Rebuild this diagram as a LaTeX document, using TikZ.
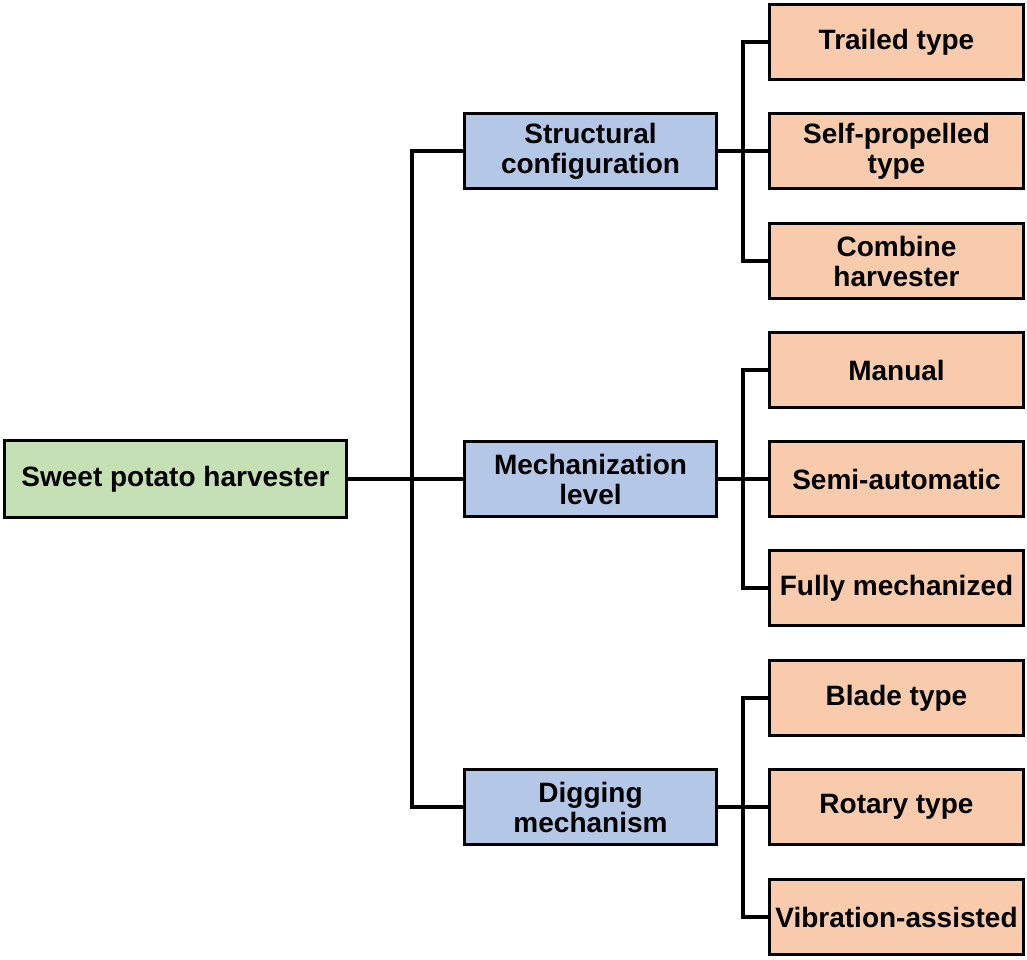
\documentclass[tikz,border=0pt]{standalone}
\usepackage{fontspec}
\setmainfont{Liberation Sans}
\usepackage{tikz}
\usepackage{xcolor}

\definecolor{rootgreen}{HTML}{C5E0B4}
\definecolor{midblue}{HTML}{B4C7E7}
\definecolor{leaforange}{HTML}{F8CBAD}

\begin{document}
\begin{tikzpicture}[x=1pt, y=-1pt,
        box/.style={draw=black, line width=3.3pt, align=center, inner sep=1pt,
            font=\fontsize{28}{30}\selectfont\bfseries},
        rootbox/.style={box, fill=rootgreen, minimum width=342pt, minimum height=77pt},
        midbox/.style={box, fill=midblue, minimum width=252pt, minimum height=75pt},
        leafbox/.style={box, fill=leaforange, minimum width=254pt, minimum height=75pt},
        link/.style={line width=3.6pt}]
        % Canvas
        \useasboundingbox (0,0) rectangle (1027,960);
        
        % Root (green)
        \node[rootbox] (root) at (175.5, 479) {Sweet potato harvester};
        
        % Categories (blue)
        \node[midbox] (struct) at (590.5, 151) {Structural\\configuration};
        \node[midbox] (mech) at (590.5, 479) {Mechanization\\level};
        \node[midbox] (dig) at (590.5, 807) {Digging\\mechanism};
        
        % Leaves (orange)
        \node[leafbox] (trailed) at (896.5, 42) {Trailed type};
        \node[leafbox] (selfprop) at (896.5, 151) {Self-propelled\\type};
        \node[leafbox] (combine) at (896.5, 261) {Combine\\harvester};
        \node[leafbox] (manual) at (896.5, 370) {Manual};
        \node[leafbox] (semi) at (896.5, 479) {Semi-automatic};
        \node[leafbox] (fully) at (896.5, 588) {Fully mechanized};
        \node[leafbox] (blade) at (896.5, 698) {Blade type};
        \node[leafbox] (rotary) at (896.5, 807) {Rotary type};
        \node[leafbox] (vibr) at (896.5, 917) {Vibration-assisted};
        
        % Connectors root -> categories
        \draw[link] (root) -- (mech);
        \draw[link] (struct.west) -- ++(-51,0) |- (dig.west);
        
        % Connectors categories -> leaves
        \draw[link] (struct) -- (selfprop);
        \draw[link] (trailed.west) -- ++(-25,0) |- (combine.west);
        \draw[link] (mech) -- (semi);
        \draw[link] (manual.west) -- ++(-25,0) |- (fully.west);
        \draw[link] (dig) -- (rotary);
        \draw[link] (blade.west) -- ++(-25,0) |- (vibr.west);
\end{tikzpicture}
\end{document}
